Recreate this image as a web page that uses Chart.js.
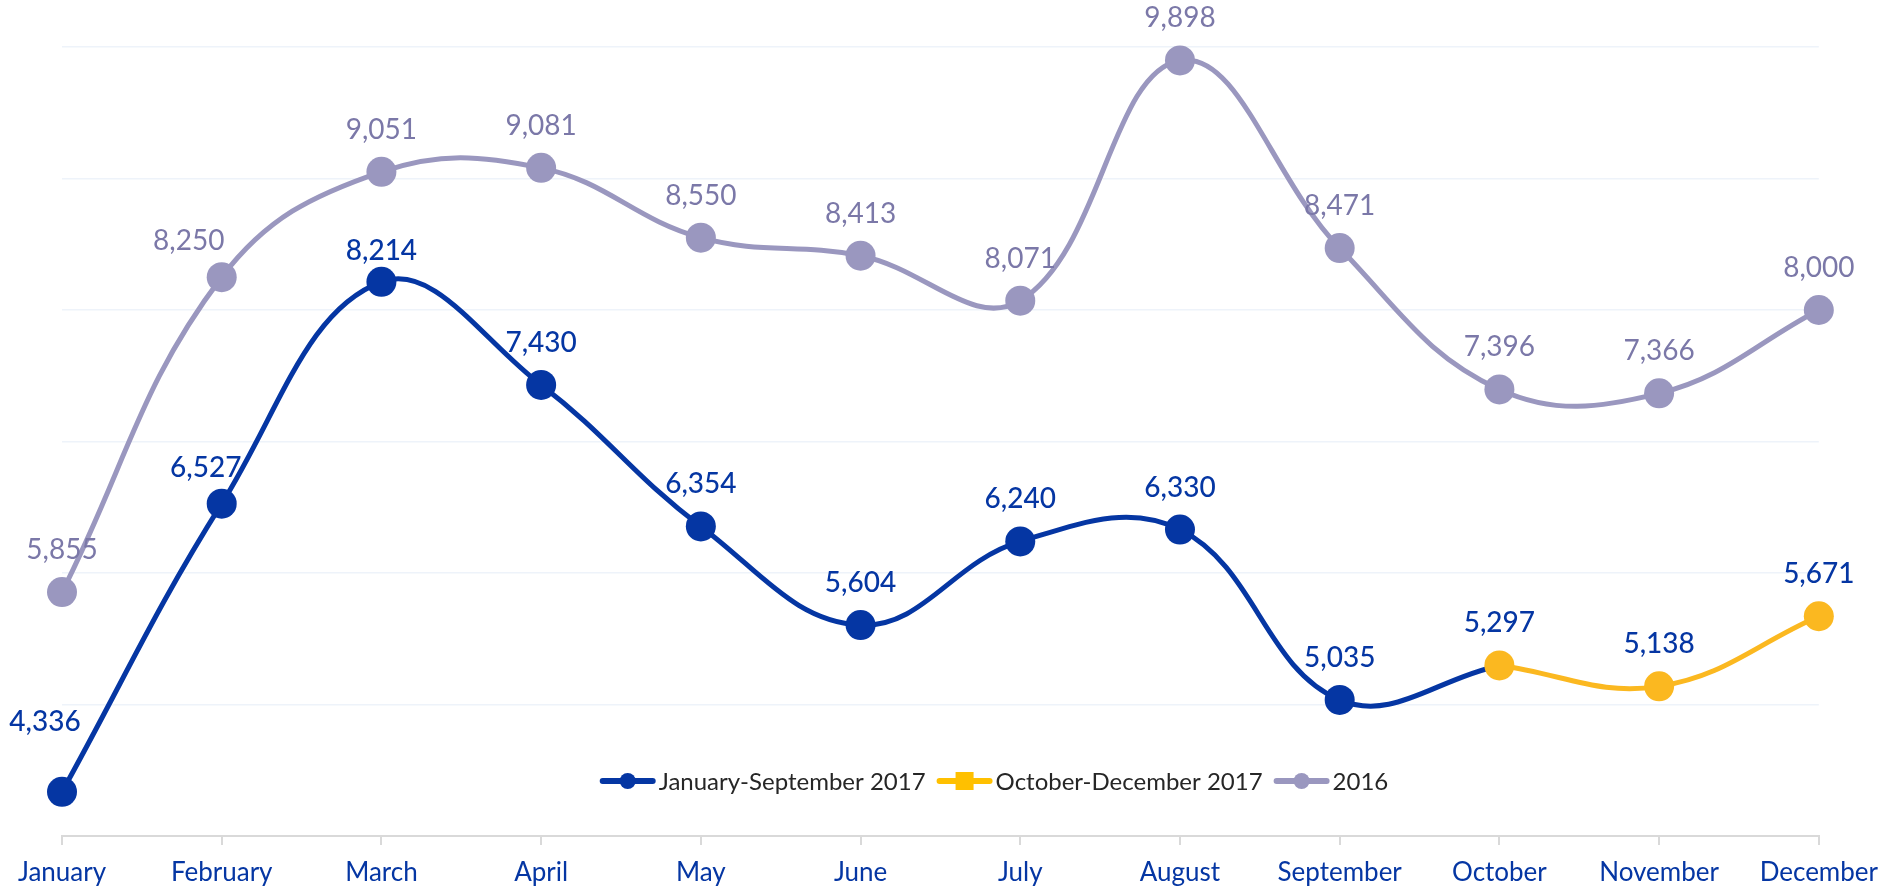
<!DOCTYPE html>
<html>
<head>
<meta charset="utf-8">
<script src="https://cdn.jsdelivr.net/npm/chart.js@4.4.1/dist/chart.umd.min.js"></script>
<style>
  html, body { margin: 0; padding: 0; background: #fff; }
  #wrap { width: 1890px; height: 888px; }
</style>
</head>
<body>
<div id="wrap"><canvas id="chart" width="1890" height="888"></canvas></div>
<script>
// valores
const months = ["January", "February", "March", "April", "May", "June",
  "July", "August", "September", "October", "November", "December"];
const values2016 = [5855, 8250, 9051, 9081, 8550, 8413, 8071, 9898, 8471, 7396, 7366, 8000];
const janSep2017 = [4336, 6527, 8214, 7430, 6354, 5604, 6240, 6330, 5035];
const octDec2017 = [5297, 5138, 5671];
const seriesNames = ["January-September 2017", "October-December 2017", "2016"];
const yMin = 4000;
const yMax = 10000;
const yStep = 1000;

const BLUE = "#0536a3";
const YELLOW = "#fbb820";
const LAVENDER = "#9a97bf";
const LAVENDER_TXT = "#7b78a8";

// serie azul continua ate outubro (a linha liga setembro a outubro)
const blueData = janSep2017.concat([octDec2017[0]]);
while (blueData.length < months.length) blueData.push(null);
const yellowData = [];
while (yellowData.length < janSep2017.length) yellowData.push(null);
octDec2017.forEach(v => yellowData.push(v));

/**
 * Rotulos de valor acima dos pontos
 */
const valueLabels = {
  id: "valueLabels",
  afterDatasetsDraw(chart, args, opts) {
    const ctx = chart.ctx;
    ctx.save();
    ctx.textAlign = "center";
    ctx.textBaseline = "middle";
    chart.data.datasets.forEach((ds, di) => {
      const meta = chart.getDatasetMeta(di);
      ctx.font = ds.labelFont || opts.font;
      meta.data.forEach((pt, i) => {
        const v = ds.data[i];
        if (v == null || i >= ds.labelUntil) return;
        const nudge = (ds.labelNudge && ds.labelNudge[i]) || [0, 0];
        ctx.fillStyle = ds.labelColor;
        ctx.fillText(v.toLocaleString("en-US"), pt.x + nudge[0], pt.y - opts.offset + nudge[1]);
      });
    });
    ctx.restore();
  }
};

/**
 * Legenda desenhada dentro da area do grafico (linha + marcador)
 */
const lineLegend = {
  id: "lineLegend",
  afterDraw(chart, args, opts) {
    const ctx = chart.ctx;
    ctx.save();
    ctx.font = opts.font;
    ctx.textBaseline = "middle";
    const items = opts.items;
    const markW = 56;
    let total = 0;
    items.forEach(it => {
      it.w = ctx.measureText(it.text).width;
      total += markW + 3 + it.w;
    });
    total += (items.length - 1) * 11;
    let x = opts.centerX - total / 2;
    const y = opts.y;
    items.forEach(it => {
      ctx.strokeStyle = it.color;
      ctx.fillStyle = it.color;
      ctx.lineWidth = 6;
      ctx.lineCap = "round";
      ctx.beginPath();
      ctx.moveTo(x + 3, y);
      ctx.lineTo(x + markW - 3, y);
      ctx.stroke();
      const cx = x + markW / 2;
      if (it.shape === "rect") {
        ctx.fillRect(cx - 9, y - 9, 18, 18);
      } else {
        ctx.beginPath();
        ctx.arc(cx, y, 8, 0, Math.PI * 2);
        ctx.fill();
      }
      ctx.fillStyle = "#262626";
      ctx.fillText(it.text, x + markW + 3, y + 1);
      x += markW + 3 + it.w + 11;
    });
    ctx.restore();
  }
};

Chart.defaults.font.family = "Lato, 'Open Sans', sans-serif";

const blueFont = "500 28px Lato, 'Open Sans', sans-serif";

new Chart(document.getElementById("chart"), {
  type: "line",
  data: {
    labels: months,
    datasets: [
      {
        label: seriesNames[1],
        data: yellowData,
        borderColor: YELLOW,
        backgroundColor: YELLOW,
        labelColor: BLUE,
        labelFont: blueFont,
        labelUntil: months.length,
        order: 0
      },
      {
        label: seriesNames[0],
        data: blueData,
        borderColor: BLUE,
        backgroundColor: BLUE,
        labelColor: BLUE,
        labelFont: blueFont,
        labelUntil: janSep2017.length,
        labelNudge: { 0: [-17, -28], 1: [-16, 6], 2: [0, 11] },
        pointRadius: ctx => (ctx.dataIndex < janSep2017.length ? 15 : 0),
        order: 1
      },
      {
        label: seriesNames[2],
        data: values2016,
        borderColor: LAVENDER,
        backgroundColor: LAVENDER,
        labelColor: LAVENDER_TXT,
        labelUntil: months.length,
        labelNudge: { 1: [-33, 6] },
        order: 2
      }
    ]
  },
  options: {
    responsive: false,
    animation: false,
    layout: { padding: { left: 62, right: 68, top: 47, bottom: 0 } },
    elements: {
      line: { borderWidth: 5, tension: 0.4, fill: false },
      point: { radius: 15, borderWidth: 0, hoverRadius: 15 }
    },
    datasets: { line: { clip: false, spanGaps: false } },
    scales: {
      x: {
        offset: false,
        grid: { display: true, drawOnChartArea: false, drawTicks: true, tickLength: 9, color: "#d9d9d9", lineWidth: 2 },
        border: { display: true, color: "#d9d9d9", width: 2 },
        ticks: { color: BLUE, font: { size: 26 }, padding: 12, maxRotation: 0, autoSkip: false },
        afterFit(scale) { scale.height = 52; }
      },
      y: {
        min: yMin,
        max: yMax,
        ticks: { display: false, stepSize: yStep },
        grid: { color: "#eef3fa", lineWidth: 1.5, drawTicks: false },
        border: { display: false }
      }
    },
    plugins: {
      legend: { display: false },
      tooltip: { enabled: false },
      valueLabels: { font: "28px Lato, 'Open Sans', sans-serif", offset: 42 },
      lineLegend: {
        font: "24px Lato, 'Open Sans', sans-serif",
        centerX: 994,
        y: 781,
        items: [
          { text: seriesNames[0], color: BLUE, shape: "circle" },
          { text: seriesNames[1], color: "#ffc000", shape: "rect" },
          { text: seriesNames[2], color: LAVENDER, shape: "circle" }
        ]
      }
    }
  },
  plugins: [valueLabels, lineLegend]
});
</script>
</body>
</html>
